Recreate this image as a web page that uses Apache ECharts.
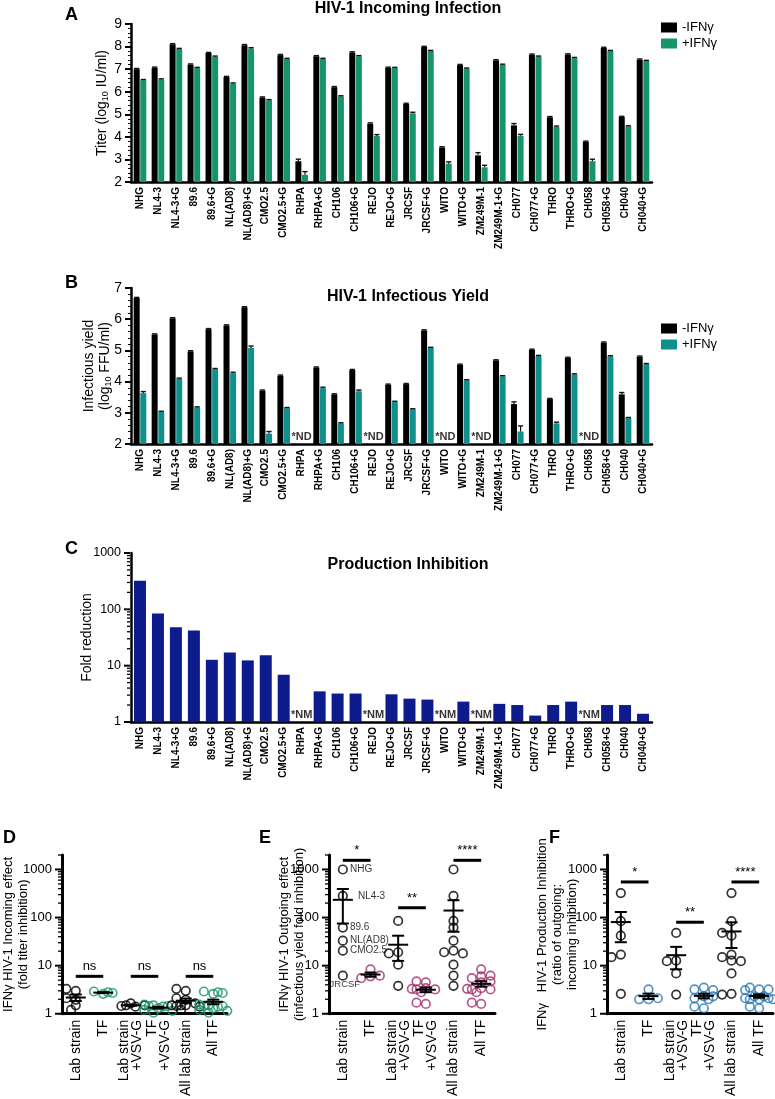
<!DOCTYPE html>
<html><head><meta charset="utf-8">
<script src="https://cdn.jsdelivr.net/npm/echarts@6/dist/echarts.min.js"></script>
<style>html,body{margin:0;padding:0;background:#fff}#c{width:775px;height:1099px}</style>
</head><body><div id="c"></div>
<script>
// ---------------- DATA ----------------
const strains = ['NHG','NL4-3','NL4-3+G','89.6','89.6+G','NL(AD8)','NL(AD8)+G','CMO2.5','CMO2.5+G','RHPA','RHPA+G','CH106','CH106+G','REJO','REJO+G','JRCSF','JRCSF+G','WITO','WITO+G','ZM249M-1','ZM249M-1+G','CH077','CH077+G','THRO','THRO+G','CH058','CH058+G','CH040','CH040+G'];

// Panel A: titer (log10 IU/ml)
const titerMinus    = [7.0,7.06,8.10,7.20,7.71,6.65,8.06,5.74,7.62,2.92,7.57,6.20,7.74,4.58,7.06,5.46,7.98,3.53,7.18,3.18,7.39,4.51,7.64,4.87,7.65,3.78,7.94,4.88,7.42];
const titerMinusErr = [0.03,0.03,0.03,0.03,0.03,0.03,0.03,0.03,0.03,0.09,0.03,0.03,0.03,0.04,0.03,0.03,0.03,0.03,0.03,0.12,0.03,0.08,0.03,0.03,0.03,0.03,0.03,0.03,0.03];
const titerPlus     = [6.51,6.54,7.89,7.05,7.55,6.36,7.92,5.62,7.45,2.32,7.45,5.79,7.57,4.04,7.05,5.04,7.80,2.81,7.02,2.65,7.19,4.05,7.55,4.44,7.49,2.92,7.80,4.46,7.36];
const titerPlusErr  = [0.03,0.03,0.03,0.03,0.03,0.03,0.03,0.03,0.03,0.14,0.03,0.03,0.03,0.06,0.03,0.05,0.03,0.08,0.03,0.09,0.03,0.06,0.03,0.04,0.03,0.09,0.03,0.03,0.03];

// Panel B: infectious yield (log10 FFU/ml); null = not detected
const yieldMinus    = [6.68,5.51,6.03,4.97,5.68,5.80,6.38,3.71,4.19,null,4.45,3.59,4.37,null,3.90,3.92,5.64,null,4.54,null,4.68,3.28,5.02,3.44,4.76,null,5.25,3.59,4.80];
const yieldMinusErr = [0.02,0.02,0.02,0.02,0.02,0.02,0.02,0.02,0.02,0,0.02,0.02,0.02,0,0.02,0.02,0.02,0,0.02,0,0.02,0.07,0.02,0.02,0.02,0,0.02,0.06,0.02];
const yieldPlus     = [3.63,3.03,4.09,3.17,4.40,4.27,5.08,2.33,3.15,null,3.79,2.66,3.69,null,3.35,3.11,5.08,null,4.04,null,4.17,2.40,4.82,2.66,4.23,null,4.81,2.83,4.56];
const yieldPlusErr  = [0.05,0.02,0.02,0.02,0.02,0.03,0.06,0.07,0.02,0,0.03,0.02,0.04,0,0.02,0.02,0.02,0,0.02,0,0.02,0.18,0.02,0.04,0.02,0,0.02,0.02,0.02];

// Panel C: production inhibition (fold reduction); null = not measurable
const prodInhibition = [323,84,48,42,12.7,17.1,12.4,15.3,6.9,null,3.5,3.2,3.2,null,3.1,2.6,2.5,null,2.3,null,2.1,2.0,1.3,2.0,2.3,null,2.0,2.0,1.4];

// Panels D-F
const groupLabels = ['Lab strain','TF','Lab strain\n+VSV-G','TF\n+VSV-G','All lab strain','All TF'];
const labNames = ['NHG','NL4-3','89.6','NL(AD8)','CMO2.5','JRCSF'];
// D: incoming effect (fold titer inhibition)
const incLab  = [3.0,3.3,1.5,1.95,1.2,2.1];
const incTF   = [2.6,2.9,2.7,2.8];
const incLabG = [1.65,1.45,1.4,1.5,1.5];
const incTFG  = [1.3,1.5,1.05,1.45,1.55,1.2,1.45,1.4,1.15];
// E: outgoing effect (infectious yield fold inhibition)
const outLab  = [1000,282,62,33,20.5,6.2];
const outTF   = [8.4,6.0,5.5,6.2];
const outLabG = [85,19,18,10.5,3.8];
const outTFG  = [4.5,4.7,3.4,3.2,3.2,1.6,3.3,2.8,1.7];
// F: production inhibition ratio
const ratioLab  = [323,84,42,17,15,2.6];
const ratioTF   = [3.2,2.0,2.0,2.1];
const ratioLabG = [48,12.7,12.4,6.9,2.5];
const ratioTFG  = [3.5,3.2,3.1,2.3,2.1,1.3,2.3,2.0,1.4];
// significance annotations
const sigD = ['ns','ns','ns'];   const sigDLevel = [6,6,6];
const sigE = ['*','**','****'];  const sigELevel = [1550,160,1550];
const sigF = ['*','**','****'];  const sigFLevel = [550,80,550];

// ---------------- STYLE ----------------
const FONT = '"Liberation Sans", Arial, Helvetica, sans-serif';
const BLACK='#000000', GREEN='#17946c', TEAL='#10908d', NAVY='#0d1b8c', MAROON='#a3306b', BLUE='#2b78b4';

const chart = echarts.init(document.getElementById('c'), null, {renderer:'canvas'});

const isPow10 = v => { const l=Math.log10(v); return Math.abs(l-Math.round(l))<1e-6; };

function minorTickData(maxV){
  const out=[];
  for(let p=1;p<=maxV+1e-9;p*=10){ for(let m=1;m<=9;m++){ const v=m*p; if(v<=maxV+1e-9) out.push([0,v,m===1?1:0]); } }
  return out;
}
function tickRender(params, api){
  const v=api.value(1), major=api.value(2);
  const y=api.coord([0,v])[1]; const x0=params.coordSys.x;
  const len = major?7:4;
  return {type:'line', shape:{x1:x0-len,y1:y,x2:x0-1,y2:y}, style:{stroke:'#000', lineWidth: major?2:1.3}};
}
function errRender(offset){
  return function(params, api){
    const v=api.value(1), e=api.value(2);
    if(v==null||isNaN(v)) return;
    const top=api.coord([api.value(0), v+e]); const bot=api.coord([api.value(0), v]);
    const cx=top[0]+offset;
    return {type:'group', children:[
      {type:'line', shape:{x1:cx,y1:bot[1],x2:cx,y2:top[1]}, style:{stroke:'#111', lineWidth:1.2}},
      {type:'line', shape:{x1:cx-2.6,y1:top[1],x2:cx+2.6,y2:top[1]}, style:{stroke:'#111', lineWidth:1.4}}
    ]};
  };
}
// simple beeswarm: horizontal jitter (px) so that hollow circles do not pile up; capped width
function swarm(vals, pxPerDecade, d, maxSteps){
  const placed=[]; const s=d*0.85;
  return vals.map(v=>{
    const y=Math.log10(v)*pxPerDecade;
    let best=0, bestDist=-1;
    for(let k=0;k<=2*maxSteps;k++){
      const ox = k===0?0:(k%2?-1:1)*Math.ceil(k/2)*s;
      const md = placed.length?Math.min(...placed.map(p=>Math.hypot(p[0]-ox,p[1]-y))):Infinity;
      if(md>=d){ best=ox; bestDist=md; break; }
      if(md>bestDist){ bestDist=md; best=ox; }
    }
    placed.push([best,y]); return best;
  });
}
function meanSem(vals){
  const n=vals.length; const m=vals.reduce((a,b)=>a+b,0)/n;
  const sd=Math.sqrt(vals.reduce((a,b)=>a+(b-m)*(b-m),0)/(n-1));
  return [m, sd/Math.sqrt(n)];
}
function meanRender(params, api){
  const i=api.value(0), m=api.value(1), s=api.value(2);
  const pm=api.coord([i,m]), pt=api.coord([i,m+s]), pb=api.coord([i,Math.max(m-s,1.0001)]);
  const x=pm[0];
  const st={stroke:'#000', lineWidth:2};
  return {type:'group', children:[
    {type:'line', shape:{x1:x-10,y1:pm[1],x2:x+10,y2:pm[1]}, style:st},
    {type:'line', shape:{x1:x,y1:pt[1],x2:x,y2:pb[1]}, style:st},
    {type:'line', shape:{x1:x-6,y1:pt[1],x2:x+6,y2:pt[1]}, style:st},
    {type:'line', shape:{x1:x-6,y1:pb[1],x2:x+6,y2:pb[1]}, style:st}
  ]};
}
function sigRender(labels){
  return function(params, api){
    const y=api.value(1), k=api.value(3);
    const a=api.coord([api.value(0), y]), b=api.coord([api.value(2), y]);
    return {type:'group', children:[
      {type:'line', shape:{x1:a[0],y1:a[1],x2:b[0],y2:b[1]}, style:{stroke:'#000', lineWidth:3}},
      {type:'text', style:{text:labels[k], x:(a[0]+b[0])/2, y:a[1]-3, align:'center', verticalAlign:'bottom', fontSize:13, fill:'#000', fontFamily:FONT}}
    ]};
  };
}

// ---------------- LAYOUT ----------------
const grids = [
  {left:131, top:24,  width:521, height:158},
  {left:131, top:288, width:521, height:156},
  {left:131, top:553, width:521, height:169},
  {left:61,  top:855, width:166, height:164},
  {left:329, top:855, width:166, height:164},
  {left:607, top:855, width:166, height:164}
];

const xAxes=[], yAxes=[], series=[];
function strainXAxis(g){
  return {type:'category', gridIndex:g, data:strains,
    axisLine:{lineStyle:{color:'#000', width:2.5}},
    axisTick:{alignWithLabel:true, length:4, lineStyle:{color:'#000', width:1.5}},
    axisLabel:{rotate:90, interval:0, fontSize:10, fontWeight:'bold', color:'#000', margin:5, fontFamily:FONT}};
}
xAxes.push(strainXAxis(0), strainXAxis(1), strainXAxis(2));

const nameStyle = {fontSize:14, color:'#000', fontFamily:FONT, lineHeight:16, rich:{s:{fontSize:9, verticalAlign:'bottom', fontFamily:FONT, color:'#000'}}};
function linYAxis(g, min, max, name, gap){
  return {type:'value', gridIndex:g, min:min, max:max, interval:1,
    axisLine:{show:true, lineStyle:{color:'#000', width:2.5}},
    axisTick:{show:true, length:6, lineStyle:{color:'#000', width:2}},
    minorTick:{show:true, splitNumber:5, length:3, lineStyle:{color:'#000', width:1}},
    splitLine:{show:false}, minorSplitLine:{show:false},
    axisLabel:{fontSize:14, color:'#000', margin:9, fontFamily:FONT},
    name:name, nameLocation:'middle', nameRotate:90, nameGap:gap, nameMoveOverlap:false, nameTextStyle:nameStyle};
}
yAxes.push(linYAxis(0,2,9,'Titer (log{s|10} IU/ml)',21));
yAxes.push(linYAxis(1,2,7,'Infectious yield\n(log{s|10} FFU/ml)',18));
function logYAxis(g, max, name, gap, fs){
  return {type:'log', logBase:10, gridIndex:g, min:1, max:max,
    axisLine:{show:true, lineStyle:{color:'#000', width:g===2?2.5:3}},
    axisTick:{show:false}, splitLine:{show:false},
    axisLabel:{fontSize:fs, color:'#000', margin:10, fontFamily:FONT, formatter:v=>isPow10(v)?String(Math.round(v)):''},
    name:name, nameLocation:'middle', nameRotate:90, nameGap:gap, nameMoveOverlap:false,
    nameTextStyle:{fontSize:13, color:'#000', fontFamily:FONT, lineHeight:15}};
}
yAxes.push(Object.assign(logYAxis(2,1000,'Fold reduction',37,12.5),{nameTextStyle:{fontSize:14,color:'#000',fontFamily:FONT}}));

// Panel A series
series.push({type:'bar', name:'-IFNγ', xAxisIndex:0, yAxisIndex:0, data:titerMinus, barWidth:6, barGap:'10%', itemStyle:{color:BLACK}});
series.push({type:'bar', name:'+IFNγ', xAxisIndex:0, yAxisIndex:0, data:titerPlus, barWidth:6, barGap:'10%', itemStyle:{color:GREEN}});
series.push({type:'custom', xAxisIndex:0, yAxisIndex:0, renderItem:errRender(-3.3), data:strains.map((s,i)=>[i,titerMinus[i],titerMinusErr[i]]), z:5, silent:true});
series.push({type:'custom', xAxisIndex:0, yAxisIndex:0, renderItem:errRender(3.3), data:strains.map((s,i)=>[i,titerPlus[i],titerPlusErr[i]]), z:5, silent:true});

// Panel B series
series.push({type:'bar', name:'-IFNγ\u200b', xAxisIndex:1, yAxisIndex:1, data:yieldMinus, barWidth:6, barGap:'10%', itemStyle:{color:BLACK}});
series.push({type:'bar', name:'+IFNγ\u200b', xAxisIndex:1, yAxisIndex:1, data:yieldPlus, barWidth:6, barGap:'10%', itemStyle:{color:TEAL}});
series.push({type:'custom', xAxisIndex:1, yAxisIndex:1, renderItem:errRender(-3.3), data:strains.map((s,i)=>[i,yieldMinus[i],yieldMinusErr[i]]), z:5, silent:true});
series.push({type:'custom', xAxisIndex:1, yAxisIndex:1, renderItem:errRender(3.3), data:strains.map((s,i)=>[i,yieldPlus[i],yieldPlusErr[i]]), z:5, silent:true});
series.push({type:'scatter', xAxisIndex:1, yAxisIndex:1, symbolSize:1, itemStyle:{color:'rgba(0,0,0,0)'}, silent:true,
  data: strains.map((s,i)=>yieldMinus[i]==null?[i,2]:null).filter(d=>d),
  label:{show:true, position:'top', distance:1, formatter:'*ND', fontSize:11, fontWeight:'bold', color:'#000', fontFamily:FONT}});

// Panel C series
series.push({type:'bar', xAxisIndex:2, yAxisIndex:2, data:prodInhibition, barWidth:12, itemStyle:{color:NAVY}});
series.push({type:'scatter', xAxisIndex:2, yAxisIndex:2, symbolSize:1, itemStyle:{color:'rgba(0,0,0,0)'}, silent:true,
  data: strains.map((s,i)=>prodInhibition[i]==null?[i,1]:null).filter(d=>d),
  label:{show:true, position:'top', distance:1, formatter:'*NM', fontSize:11, fontWeight:'bold', color:'#000', fontFamily:FONT}});
series.push({type:'custom', xAxisIndex:2, yAxisIndex:2, renderItem:tickRender, data:minorTickData(1000), clip:false, silent:true, z:10});

// Panels D-F
const panels = [
  {g:3, groups:[incLab,incTF,incLabG,incTFG,incLab.concat(incLabG),incTF.concat(incTFG)], color:GREEN, sig:sigD, lvl:sigDLevel,
   name:'IFNγ HIV-1 Incoming effect\n(fold titer inhibition)', gap:31},
  {g:4, groups:[outLab,outTF,outLabG,outTFG,outLab.concat(outLabG),outTF.concat(outTFG)], color:MAROON, sig:sigE, lvl:sigELevel,
   name:'IFNγ HIV-1 Outgoing effect\n(infectious yield fold inhibition)', gap:22},
  {g:5, groups:[ratioLab,ratioTF,ratioLabG,ratioTFG,ratioLab.concat(ratioLabG),ratioTF.concat(ratioTFG)], color:BLUE, sig:sigF, lvl:sigFLevel,
   name:'IFNγ   HIV-1 Production Inhibition\n(ratio of outgoing:\nincoming inhibition)', gap:27}
];
const labLabelStyle = [
  {position:'right', distance:2, offset:[0,0]},
  {position:'right', distance:2, offset:[8,0]},
  {position:'right', distance:2, offset:[0,0]},
  {position:'right', distance:2, offset:[0,0]},
  {position:'right', distance:2, offset:[0,0]},
  {position:'bottom', distance:0, offset:[2,-1], fontSize:9.5}
];
panels.forEach(p=>{
  xAxes.push({type:'category', gridIndex:p.g, data:groupLabels,
    axisLine:{lineStyle:{color:'#000', width:3}},
    axisTick:{alignWithLabel:true, length:5, lineStyle:{color:'#000', width:2}},
    axisLabel:{rotate:90, interval:0, fontSize:14, lineHeight:13, color:'#000', margin:6, fontFamily:FONT}});
  yAxes.push(logYAxis(p.g, 2000, p.name, p.gap, 13));
  series.push({type:'custom', xAxisIndex:p.g, yAxisIndex:p.g, renderItem:tickRender, data:minorTickData(2000), clip:false, silent:true, z:10});
  p.groups.forEach((vals,i)=>{
    const offs = swarm(vals, 49.7, 5.5, 3);
    const col = (i%2===0)?BLACK:p.color;
    series.push({type:'scatter', xAxisIndex:p.g, yAxisIndex:p.g, symbol:'circle', symbolSize:8.5, silent:true, z:3,
      itemStyle:{color:'rgba(255,255,255,0)', borderColor:col, borderWidth:1.7},
      data: vals.map((v,j)=>{
        const item={value:[i,v], symbolOffset:[offs[j],0]};
        if(p.g===4 && i===0){
          item.name=labNames[j];
          item.label=Object.assign({show:true, formatter:'{b}', fontSize:10, color:'#000', fontFamily:FONT}, labLabelStyle[j]);
        }
        return item;
      })});
  });
  series.push({type:'custom', xAxisIndex:p.g, yAxisIndex:p.g, renderItem:meanRender, silent:true, z:6, clip:false,
    data:p.groups.map((vals,i)=>{const ms=meanSem(vals); return [i, ms[0], ms[1]];})});
  series.push({type:'custom', xAxisIndex:p.g, yAxisIndex:p.g, renderItem:sigRender(p.sig), silent:true, z:6, clip:false,
    data:p.sig.map((s,k)=>[2*k, p.lvl[k], 2*k+1, k])});
});

const titles = [
  {text:'A', left:65, top:6}, {text:'B', left:65, top:274}, {text:'C', left:65, top:540},
  {text:'D', left:3, top:829}, {text:'E', left:259, top:829}, {text:'F', left:549, top:829}
].map(t=>Object.assign(t,{padding:0, textStyle:{fontSize:18, fontWeight:'bold', color:'#000', fontFamily:FONT}}));
[['HIV-1 Incoming Infection',1],['HIV-1 Infectious Yield',289],['Production Inhibition',557]].forEach(t=>{
  titles.push({text:t[0], left:408, top:t[1], textAlign:'center', padding:0, textStyle:{fontSize:16, fontWeight:'bold', color:'#000', fontFamily:FONT}});
});

const legendBase = {orient:'vertical', left:656, icon:'rect', itemWidth:16, itemHeight:10, itemGap:3, selectedMode:false,
  textStyle:{fontSize:13, color:'#000', fontFamily:FONT}, formatter:n=>n.replace(/\u200b/g,'')};

chart.setOption({
  animation:false,
  backgroundColor:'#fff',
  title:titles,
  legend:[Object.assign({},legendBase,{top:16, data:['-IFNγ','+IFNγ']}), Object.assign({},legendBase,{top:317, data:['-IFNγ\u200b','+IFNγ\u200b']})],
  grid:grids, xAxis:xAxes, yAxis:yAxes, series:series
});
</script></body></html>
